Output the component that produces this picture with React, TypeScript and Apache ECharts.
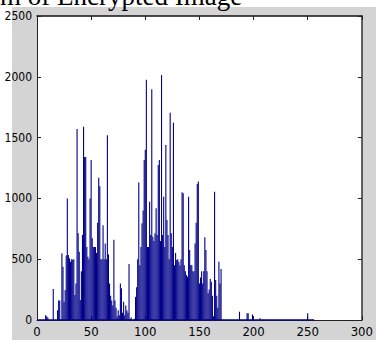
import React, { useEffect, useRef } from "react";
import * as echarts from "echarts";

const TITLE_VISIBLE = "m of Encrypted Image";
const X_MIN = 0;
const X_MAX = 300;
const X_STEP = 50;
const Y_MIN = 0;
const Y_MAX = 2500;
const Y_STEP = 500;

// histogram counts for grey levels 0..170
const COUNTS_0_170 = [
  0, 0, 0, 0, 0, 0, 0, 0, 40, 30,
  20, 0, 0, 0, 0, 255, 0, 0, 0, 80,
  160, 160, 0, 548, 438, 150, 247, 530, 1000, 535,
  507, 480, 500, 495, 500, 205, 300, 1570, 713, 562,
  164, 400, 700, 1590, 1340, 1340, 600, 521, 500, 1000,
  1315, 672, 600, 600, 600, 550, 800, 1170, 1100, 500,
  500, 780, 500, 630, 500, 1520, 540, 300, 200, 160,
  120, 660, 160, 100, 30, 80, 40, 300, 260, 60,
  150, 40, 120, 80, 60, 460, 10, 20, 0, 0,
  10, 190, 270, 500, 1130, 450, 600, 795, 900, 1315,
  1400, 1975, 600, 600, 973, 700, 1897, 685, 650, 713,
  918, 700, 1275, 1316, 650, 2015, 700, 1014, 600, 1440,
  822, 700, 500, 1705, 713, 600, 1623, 450, 550, 493,
  500, 480, 450, 500, 1050, 1042, 450, 400, 370, 356,
  1014, 576, 452, 450, 400, 400, 630, 800, 1118, 1140,
  300, 350, 400, 300, 400, 680, 576, 400, 219, 250,
  337, 315, 200, 30, 1055, 329, 200, 100, 480, 300,
  420,
];
// isolated small bins above 170
const SPARSE_BINS = [187, 194, 195, 199, 206, 250];
const SPARSE_COUNTS = [68, 55, 55, 45, 15, 55];
const LAST_BIN = 255;

const BLUE = "#000088";

export default function App() {
  const ref = useRef<HTMLDivElement>(null);
  useEffect(() => {
    if (!ref.current) return;
    const chart = echarts.init(ref.current, undefined, { renderer: "svg" });
    const data: [number, number][] = [];
    for (let i = 0; i <= LAST_BIN; i++) {
      let c = i < COUNTS_0_170.length ? COUNTS_0_170[i] : 0;
      const k = SPARSE_BINS.indexOf(i);
      if (k >= 0) c = SPARSE_COUNTS[k];
      if (c > 0) data.push([i, c]);
    }
    const labelFont = {
      fontFamily: '"Liberation Sans Narrow", "DejaVu Sans Condensed", Arial, sans-serif',
      fontSize: 12,
      color: "#000",
    };
    const plain = (v: number) => String(v);
    const frame = { lineStyle: { color: "#222", width: 1 } };
    chart.setOption({
      animation: false,
      backgroundColor: "#ffffff",
      graphic: [
        {
          type: "rect",
          z: -10,
          shape: { x: 12, y: 7, width: 364, height: 333 },
          style: { fill: "#d4d4d4" },
        },
        {
          type: "text",
          z: 10,
          x: 0,
          y: 9,
          style: {
            text: TITLE_VISIBLE,
            font: '27px "Liberation Serif", "Times New Roman", serif',
            fill: "#000",
            verticalAlign: "bottom",
          },
        },
      ],
      grid: {
        left: 37,
        top: 16,
        width: 330,
        height: 304,
        show: true,
        backgroundColor: "#ffffff",
        borderWidth: 0,
      },
      xAxis: [
        {
          type: "value",
          min: X_MIN,
          max: X_MAX,
          interval: X_STEP,
          position: "bottom",
          axisLine: { show: true, onZero: false, ...frame },
          axisTick: { show: true, inside: true, length: 4, lineStyle: { color: "#222" } },
          axisLabel: { ...labelFont, fontSize: 13, margin: 5, formatter: plain },
          splitLine: { show: false },
        },
        {
          type: "value",
          min: X_MIN,
          max: X_MAX,
          interval: X_STEP,
          position: "top",
          axisLine: { show: true, onZero: false, lineStyle: { color: "#111", width: 1.5 } },
          axisTick: { show: true, inside: true, length: 4, lineStyle: { color: "#222" } },
          axisLabel: { show: false },
          splitLine: { show: false },
        },
      ],
      yAxis: [
        {
          type: "value",
          min: Y_MIN,
          max: Y_MAX,
          interval: Y_STEP,
          position: "left",
          axisLine: { show: true, onZero: false, ...frame },
          axisTick: { show: true, inside: true, length: 4, lineStyle: { color: "#222" } },
          axisLabel: { ...labelFont, margin: 5, formatter: plain },
          splitLine: { show: false },
        },
        {
          type: "value",
          min: Y_MIN,
          max: Y_MAX,
          interval: Y_STEP,
          position: "right",
          axisLine: { show: true, onZero: false, lineStyle: { color: "#333", width: 1.5 } },
          axisTick: { show: true, inside: true, length: 4, lineStyle: { color: "#222" } },
          axisLabel: { show: false },
          splitLine: { show: false },
        },
      ],
      series: [
        {
          type: "bar",
          xAxisIndex: 0,
          yAxisIndex: 0,
          data,
          barWidth: 1.1,
          itemStyle: { color: BLUE },
        },
        {
          type: "line",
          xAxisIndex: 0,
          yAxisIndex: 0,
          data: [
            [0, 0],
            [LAST_BIN + 1, 0],
          ],
          symbol: "none",
          lineStyle: { color: BLUE, width: 1.5 },
          z: 3,
        },
      ],
    });
    return () => chart.dispose();
  }, []);
  return (
    <div
      ref={ref}
      style={{ position: "fixed", left: 0, top: 0, width: 376, height: 340 }}
    />
  );
}
